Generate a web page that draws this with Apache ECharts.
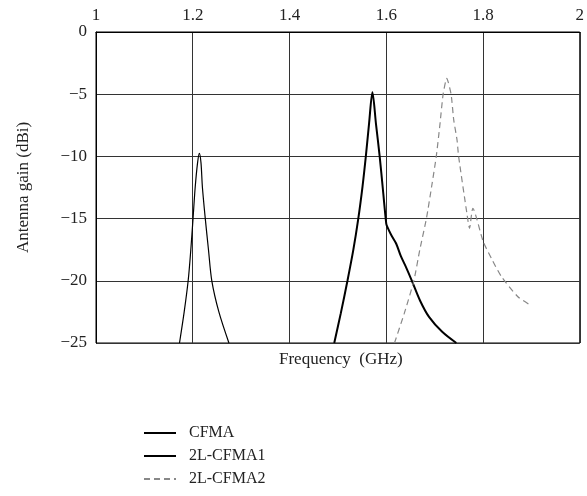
<!DOCTYPE html>
<html>
<head>
<meta charset="utf-8">
<script src="https://cdn.jsdelivr.net/npm/echarts@6/dist/echarts.min.js"></script>
<style>
html,body{margin:0;padding:0;background:#fff;}
#chart{width:587px;height:496px;}
</style>
</head>
<body>
<div id="chart"></div>
<script>
// Data
var seriesNames = ['CFMA', '2L-CFMA1', '2L-CFMA2'];

var cfmaFreq = [1.1726, 1.1823, 1.1905, 1.1960, 1.2006, 1.2050, 1.2100, 1.2136, 1.2170, 1.2200, 1.2259, 1.2325, 1.2394, 1.2540, 1.2748];
var cfmaGain = [-25, -22.5, -20, -17.5, -15, -12.5, -10.5, -9.75, -10.5, -12.5, -15, -17.5, -20, -22.5, -25];

var l1Freq = [1.4925, 1.5061, 1.5198, 1.5320, 1.5422, 1.5510, 1.5578, 1.5646, 1.5714, 1.5788, 1.5864, 1.5932, 1.6000, 1.6020, 1.6100, 1.6204, 1.6300, 1.6408, 1.6530, 1.6700, 1.6884, 1.7156, 1.7449];
var l1Gain = [-25, -22.6, -20, -17.5, -15, -12.4, -10, -7.3, -4.85, -7.4, -10, -12.7, -15.4, -15.65, -16.3, -17.0, -18.0, -18.9, -20, -21.6, -22.9, -24.1, -25];

var l2Freq = [1.6170, 1.6374, 1.6570, 1.6694, 1.6830, 1.6939, 1.7034, 1.7108, 1.7176, 1.7251, 1.7340, 1.7395, 1.7463, 1.7496, 1.7667, 1.7721, 1.7790, 1.8006, 1.8200, 1.8382, 1.8721, 1.9006];
var l2Gain = [-25, -22.6, -20, -17.5, -15, -12.4, -10, -7.5, -5, -3.72, -5, -7.07, -8.68, -10, -14.58, -15.78, -14.17, -16.86, -18.4, -19.67, -21.28, -22.03];

var xTicks = {min: 1, max: 2, step: 0.2};
var yTicks = {min: -25, max: 0, step: 5};
var xAxisName = 'Frequency  (GHz)';
var yAxisName = 'Antenna gain (dBi)';

function zip(a, b) { return a.map(function (v, i) { return [v, b[i]]; }); }

var FONT = 'Liberation Serif';
var chart = echarts.init(document.getElementById('chart'), null, {renderer: 'canvas'});
chart.setOption({
  animation: false,
  backgroundColor: '#fff',
  grid: {left: 96, top: 32, right: 1, bottom: 153, show: true, borderColor: '#000', borderWidth: 1, backgroundColor: 'transparent'},
  xAxis: {
    type: 'value', position: 'top', min: xTicks.min, max: xTicks.max, interval: xTicks.step,
    axisLine: {show: true, lineStyle: {color: '#000', width: 1}},
    axisTick: {show: false},
    axisLabel: {color: '#222', fontFamily: FONT, fontSize: 17, margin: 8,
      formatter: function (v) { return String(Math.round(v * 10) / 10); }},
    splitLine: {show: true, lineStyle: {color: '#333', width: 1}}
  },
  yAxis: {
    type: 'value', min: yTicks.min, max: yTicks.max, interval: yTicks.step,
    name: yAxisName, nameLocation: 'middle', nameGap: 64, nameRotate: 90,
    nameTextStyle: {color: '#222', fontFamily: FONT, fontSize: 17},
    axisLine: {show: true, lineStyle: {color: '#000', width: 1}},
    axisTick: {show: false},
    axisLabel: {color: '#222', fontFamily: FONT, fontSize: 17, margin: 9,
      formatter: function (v) { return v < 0 ? '\u2212' + Math.abs(v) : String(v); }},
    splitLine: {show: true, lineStyle: {color: '#333', width: 1}}
  },
  legend: {
    orient: 'vertical', left: 143, top: 425, padding: 0, itemWidth: 32, itemHeight: 14, itemGap: 7,
    data: seriesNames,
    itemStyle: {opacity: 0},
    textStyle: {color: '#222', fontFamily: FONT, fontSize: 16, padding: [0, 0, 0, 8]}
  },
  graphic: [{
    type: 'text', left: 341 - 62, top: 351,
    style: {text: xAxisName, fill: '#222', font: '17px "' + FONT + '"'}
  }],
  series: [
    {name: seriesNames[0], type: 'line', data: zip(cfmaFreq, cfmaGain), symbol: 'none', smooth: 0.3,
      lineStyle: {color: '#000', width: 1.2}, itemStyle: {color: '#000'}},
    {name: seriesNames[1], type: 'line', data: zip(l1Freq, l1Gain), symbol: 'none', smooth: 0.3,
      lineStyle: {color: '#000', width: 2}, itemStyle: {color: '#000'}},
    {name: seriesNames[2], type: 'line', data: zip(l2Freq, l2Gain), symbol: 'none', smooth: 0.2,
      lineStyle: {color: '#888', width: 1.2, type: [6, 4]}, itemStyle: {color: '#888'}}
  ]
});
</script>
</body>
</html>
